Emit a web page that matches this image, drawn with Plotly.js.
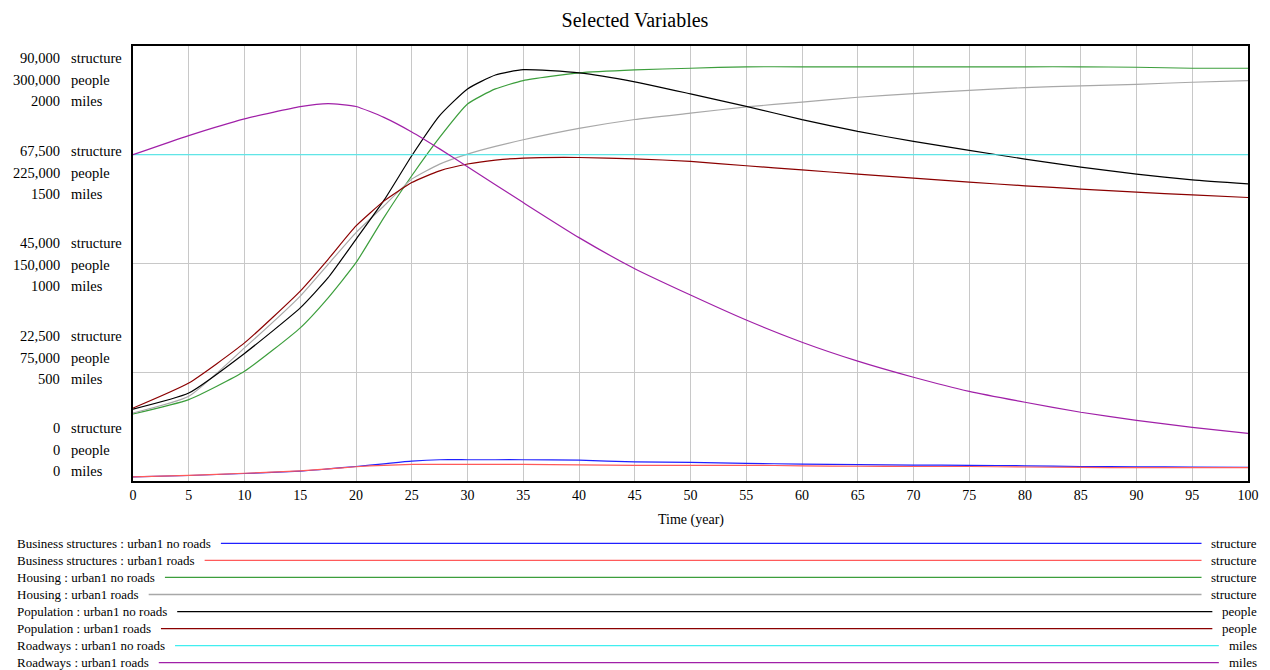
<!DOCTYPE html>
<html>
<head>
<meta charset="utf-8">
<script src="https://cdn.plot.ly/plotly-3.0.1.min.js"></script>
<style>
html,body{margin:0;padding:0;background:#fff;}
#chart{width:1270px;height:670px;}
</style>
</head>
<body>
<div id="chart"></div>
<script>
// ---------------- DATA ----------------
const times = [0,5,10,15,17.5,20,22.5,25,27.5,30,32.5,35,40,45,50,55,60,65,70,75,80,85,90,95,100];

const businessNoRoads = [870,1140,1555,2030,2500,3000,3550,4100,4400,4400,4400,4400,4300,3950,3850,3650,3500,3400,3300,3250,3150,3000,2950,2900,2800];
const businessRoads   = [870,1160,1600,2100,2500,2950,3250,3420,3420,3420,3420,3420,3350,3250,3250,3250,3150,3050,3000,3000,2900,2800,2750,2750,2750];
const housingNoRoads  = [13860,16840,22700,31690,37900,45170,54500,63150,71090,78000,81120,82850,84440,85060,85400,85700,85700,85700,85700,85700,85700,85700,85600,85400,85400];
const housingRoads    = [14060,17520,27540,38260,44830,51390,56900,62460,65570,67640,69220,70600,72950,74800,76100,77400,78400,79400,80150,80830,81400,81740,82080,82500,82850];
const populationNoRoads = [49600,60700,88000,119400,140200,166700,193500,224300,252000,270400,280000,283700,281500,275300,267000,258400,249200,241100,234200,228000,222000,216500,211600,207700,204900];
const populationRoads   = [50300,67600,95250,131000,152900,175900,193000,205800,213900,218600,221300,222700,223100,222200,220400,217400,214600,211600,208900,206100,203600,201300,199200,197300,195500];
const roadwaysNoRoads = [1500,1500,1500,1500,1500,1500,1500,1500,1500,1500,1500,1500,1500,1500,1500,1500,1500,1500,1500,1500,1500,1500,1500,1500,1500];
const roadwaysRoads   = [1500,1588,1665,1721,1735,1722,1672,1605,1527,1445,1362,1280,1119,976,855,740,638,551,477,412,362,316,279,247,219];

const seriesNames = [
  'Business structures : urban1 no roads',
  'Business structures : urban1 roads',
  'Housing : urban1 no roads',
  'Housing : urban1 roads',
  'Population : urban1 no roads',
  'Population : urban1 roads',
  'Roadways : urban1 no roads',
  'Roadways : urban1 roads'
];
const seriesUnits = ['structure','structure','structure','structure','people','people','miles','miles'];
const seriesData = [businessNoRoads,businessRoads,housingNoRoads,housingRoads,populationNoRoads,populationRoads,roadwaysNoRoads,roadwaysRoads];
const seriesAxis = ['y','y','y','y','y2','y2','y3','y3'];
const seriesColors = ['#2020ff','#ff5a5a','#3c9e3c','#a8a8a8','#000000','#8b0000','#40eef0','#a020a8'];

const structureTicks = ['90,000','67,500','45,000','22,500','0'];
const peopleTicks    = ['300,000','225,000','150,000','75,000','0'];
const milesTicks     = ['2000','1500','1000','500','0'];
const unitNames = ['structure','people','miles'];

// ---------------- LAYOUT GEOMETRY ----------------
const W = 1270, H = 670;
const L = 133, R = 1248, T = 46, B = 481;
const FONT = '"Liberation Serif", "Times New Roman", serif';
const px2x = p => (p - L) / (R - L);
const px2y = p => (B - p) / (B - T);

const traces = seriesData.map((d,i) => ({
  x: times, y: d, yaxis: seriesAxis[i], type: 'scatter', mode: 'lines',
  name: seriesNames[i],
  line: {color: seriesColors[i], width: 1.2, shape: i === 6 ? 'linear' : 'spline', smoothing: 0.5},
  hoverinfo: 'x+y+name'
}));

const annotations = [];
// stacked left axis labels
const tickGroups = [structureTicks, peopleTicks, milesTicks];
const rowOffsets = [0, 22, 43];
for (let g = 0; g < 5; g++) {
  const top = 58 + 92.5 * g;
  for (let k = 0; k < 3; k++) {
    const py = top + rowOffsets[k];
    annotations.push({xref:'paper', yref:'paper', x: px2x(62), y: px2y(py), xanchor:'right', yanchor:'middle',
      text: tickGroups[k][g], showarrow:false, font:{family:FONT, size:14.5, color:'#000'}});
    annotations.push({xref:'paper', yref:'paper', x: px2x(69), y: px2y(py), xanchor:'left', yanchor:'middle',
      text: unitNames[k], showarrow:false, font:{family:FONT, size:14.5, color:'#000'}});
  }
}
// x axis title
annotations.push({xref:'paper', yref:'paper', x: 0.5, y: px2y(520), xanchor:'center', yanchor:'middle',
  text:'Time (year)', showarrow:false, font:{family:FONT, size:14, color:'#000'}});

// custom legend
const ctx = document.createElement('canvas').getContext('2d');
ctx.font = '13px "Liberation Serif"';
const shapes = [];
const unitRightEdge = 1259;
seriesNames.forEach((name, i) => {
  const py = 543.3 + 17.06 * i;
  annotations.push({xref:'paper', yref:'paper', x: px2x(15), y: px2y(py), xanchor:'left', yanchor:'middle',
    text: name, showarrow:false, font:{family:FONT, size:13, color:'#000'}});
  annotations.push({xref:'paper', yref:'paper', x: px2x(unitRightEdge), y: px2y(py), xanchor:'right', yanchor:'middle',
    text: seriesUnits[i], showarrow:false, font:{family:FONT, size:13, color:'#000'}});
  const x0 = 17 + ctx.measureText(name).width + 10;
  const x1 = unitRightEdge - 2 - ctx.measureText(seriesUnits[i]).width - 10;
  shapes.push({type:'line', xref:'paper', yref:'paper', x0: px2x(x0), x1: px2x(x1), y0: px2y(py), y1: px2y(py),
    line:{color: seriesColors[i], width: 1.3}});
});

const layout = {
  width: W, height: H,
  margin: {l: L, r: W - R, t: T, b: H - B, pad: 0},
  paper_bgcolor: '#fff', plot_bgcolor: '#fff',
  showlegend: false,
  title: {text: 'Selected Variables', x: 0.5, xanchor: 'center', xref: 'container', y: 1 - 20/H, yanchor: 'middle', yref: 'container',
          font: {family: FONT, size: 20, color: '#000'}},
  xaxis: {range: [0, 100], dtick: 5, tick0: 0, showgrid: true, gridcolor: '#c8c8c8', gridwidth: 1,
          showline: true, linecolor: '#000', linewidth: 2, mirror: true, zeroline: false,
          ticks: '', tickfont: {family: FONT, size: 14, color: '#000'}, fixedrange: true},
  yaxis: {range: [0, 90000], dtick: 22500, tick0: 0, showgrid: true, gridcolor: '#c8c8c8', gridwidth: 1,
          showline: true, linecolor: '#000', linewidth: 2, mirror: true, zeroline: false,
          showticklabels: false, ticks: '', fixedrange: true},
  yaxis2: {range: [0, 300000], overlaying: 'y', showgrid: false, showticklabels: false, zeroline: false, showline: false, ticks: '', fixedrange: true},
  yaxis3: {range: [0, 2000], overlaying: 'y', showgrid: false, showticklabels: false, zeroline: false, showline: false, ticks: '', fixedrange: true},
  annotations: annotations,
  shapes: shapes
};

Plotly.newPlot('chart', traces, layout, {displayModeBar: false, staticPlot: true});
</script>
</body>
</html>
